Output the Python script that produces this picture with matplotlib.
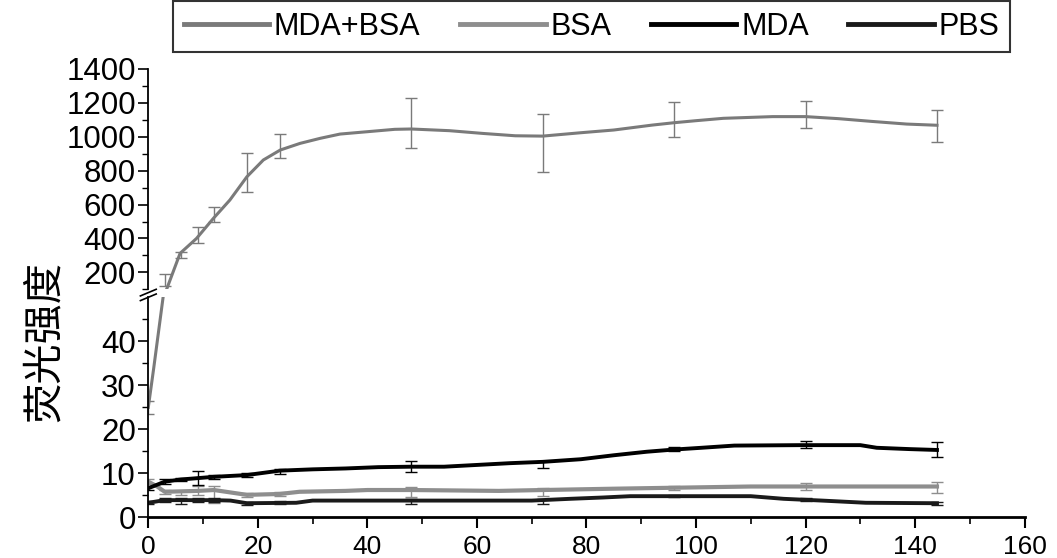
import matplotlib
matplotlib.use("Agg")
import matplotlib.pyplot as plt
import numpy as np

plt.rcParams["font.family"] = ["Liberation Sans", "Noto Sans CJK SC", "DejaVu Sans"]

# smoothed curves (x in h)
mda_bsa_x = [0, 1.0, 2.7, 3.4, 5.8, 8.8, 11.9, 14.9, 18, 21, 24.1, 27.7, 31.4, 35, 40, 45, 48,
             55, 61, 67, 72, 79, 85, 92, 96, 100, 105, 114, 120, 126, 132, 138.5, 144]
mda_bsa_y = [25, 34, 50, 105, 312, 400, 519, 627, 764, 863, 922, 961, 991, 1016, 1030, 1044, 1046,
             1036, 1020, 1006, 1004, 1024, 1040, 1069, 1083, 1095, 1109, 1119, 1119, 1107, 1091, 1075, 1068]

mda_x = [0, 3, 6, 12, 18, 24, 30, 36, 42, 48, 54, 60, 66, 72, 79, 85, 91, 96, 101, 107, 119, 130, 133, 139, 144]
mda_y = [6.6, 8.1, 8.6, 9.2, 9.6, 10.6, 10.9, 11.1, 11.4, 11.5, 11.5, 11.9, 12.3, 12.6, 13.2, 14.1, 14.9,
         15.4, 15.8, 16.3, 16.4, 16.4, 15.8, 15.5, 15.3]

bsa_x = [0, 1.5, 3, 9, 12, 18, 24, 27.6, 36, 40, 48, 64, 72, 85, 95, 110, 119, 144]
bsa_y = [8.1, 7.1, 5.8, 6.0, 6.2, 5.1, 5.3, 5.8, 6.0, 6.2, 6.2, 6.0, 6.2, 6.5, 6.7, 7.0, 7.0, 7.0]

pbs_x = [0, 3, 12, 15, 18, 27, 30, 70, 77, 83, 88, 110, 116, 123, 131, 144]
pbs_y = [3.3, 3.9, 3.9, 3.8, 3.2, 3.3, 3.8, 3.8, 4.2, 4.5, 4.8, 4.8, 4.2, 3.8, 3.3, 3.2]

# measured points with error bars
t = [0, 3, 6, 9, 12, 18, 24, 48, 72, 96, 120, 144]
mda_bsa_m = [25, 154, 300, 422, 543, 789, 945, 1079, 964, 1100, 1133, 1065]
mda_bsa_e = [1.5, 36, 18, 47, 44, 113, 70, 147, 170, 103, 80, 94]
mda_m = [6.6, 8.1, 8.6, 8.95, 9.2, 9.6, 10.4, 11.6, 11.9, 15.5, 16.6, 15.3]
mda_e = [0.5, 0.5, 0.4, 1.65, 0.5, 0.4, 0.6, 1.2, 0.8, 0.5, 0.8, 1.7]
bsa_m = [8.1, 5.8, 5.5, 6.0, 5.2, 5.1, 5.3, 5.7, 5.7, 6.6, 7.0, 6.8]
bsa_e = [0.5, 0.5, 0.5, 1.0, 1.9, 0.4, 0.5, 1.2, 0.9, 0.5, 0.8, 1.3]
pbs_m = [3.3, 3.9, 3.65, 3.9, 3.9, 3.2, 3.3, 3.6, 3.6, 4.8, 4.1, 3.2]
pbs_e = [0.3, 0.4, 0.7, 0.5, 0.5, 0.3, 0.3, 0.5, 0.6, 0.3, 0.3, 0.3]

labels = ["MDA+BSA", "BSA", "MDA", "PBS"]
colors = ["#7a7a7a", "#8e8e8e", "#000000", "#1a1a1a"]

W, H = 1057, 558
fig = plt.figure(figsize=(W / 100, H / 100), dpi=100)
ax_top = fig.add_axes([148.3 / W, 1 - 289.3 / H, 876.3 / W, 220.3 / H])
ax_bot = fig.add_axes([148.3 / W, 1 - 517.3 / H, 876.3 / W, 220 / H])

curves = [(mda_bsa_x, mda_bsa_y), (bsa_x, bsa_y), (mda_x, mda_y), (pbs_x, pbs_y)]
points = [(mda_bsa_m, mda_bsa_e), (bsa_m, bsa_e), (mda_m, mda_e), (pbs_m, pbs_e)]
widths = [2.2, 3.0, 2.8, 2.8]

for ax in (ax_top, ax_bot):
    for (cx, cy), (m, e), c, lw, lab in zip(curves, points, colors, widths, labels):
        ax.plot(cx, cy, color=c, lw=lw, label=lab)
        ax.errorbar(t, m, yerr=e, fmt="none", ecolor=c, elinewidth=1.0,
                    capsize=4, capthick=1.0)
    ax.set_xlim(0, 160)
    ax.spines["top"].set_visible(False)
    ax.spines["right"].set_visible(False)
    ax.spines["left"].set_linewidth(1.3)
    ax.tick_params(axis="y", which="major", direction="out", length=7, width=1.2,
                   labelsize=22.5, pad=2)
    ax.tick_params(axis="y", which="minor", direction="out", length=4, width=1.0)

ax_top.set_ylim(100, 1400)
ax_top.set_yticks(np.arange(200, 1401, 200))
ax_top.set_yticks(np.arange(100, 1400, 100), minor=True)
ax_top.spines["bottom"].set_visible(False)
ax_top.tick_params(axis="x", which="both", bottom=False, labelbottom=False)

ax_bot.set_ylim(0, 50)
ax_bot.set_yticks([0, 10, 20, 30, 40])
ax_bot.set_yticks(np.arange(5, 50, 10), minor=True)
ax_bot.set_xticks(np.arange(0, 161, 20))
ax_bot.set_xticks(np.arange(10, 160, 20), minor=True)
ax_bot.spines["bottom"].set_linewidth(2.0)
ax_bot.tick_params(axis="x", which="major", direction="out", length=8, width=1.5,
                   labelsize=19, pad=5)
ax_bot.tick_params(axis="x", which="minor", direction="out", length=5, width=1.2)

# break marks on the y axis
brk = dict(color="k", lw=1.2, clip_on=False)
ax_top.plot([-0.009, 0.009], [-0.03, 0.0], transform=ax_top.transAxes, **brk)
ax_bot.plot([-0.009, 0.009], [0.985, 1.015], transform=ax_bot.transAxes, **brk)

fig.text(44 / W, 1 - 341 / H, "荧光强度", rotation=90, ha="center", va="center",
         fontsize=29, family=["Noto Sans CJK SC", "DejaVu Sans"])

handles, _ = ax_top.get_legend_handles_labels()
leg = fig.legend(handles, labels, loc="upper center", ncol=4,
                 bbox_to_anchor=(591.5 / W, 1 - 1 / H), bbox_transform=fig.transFigure,
                 fontsize=22, frameon=True, fancybox=False, edgecolor="black",
                 handlelength=2.8, handletextpad=0.15, columnspacing=1.3,
                 borderpad=0.35, borderaxespad=0)
leg.get_frame().set_linewidth(1.5)
for line in leg.get_lines():
    line.set_linewidth(3.5)

fig.savefig("out.png", dpi=100)
